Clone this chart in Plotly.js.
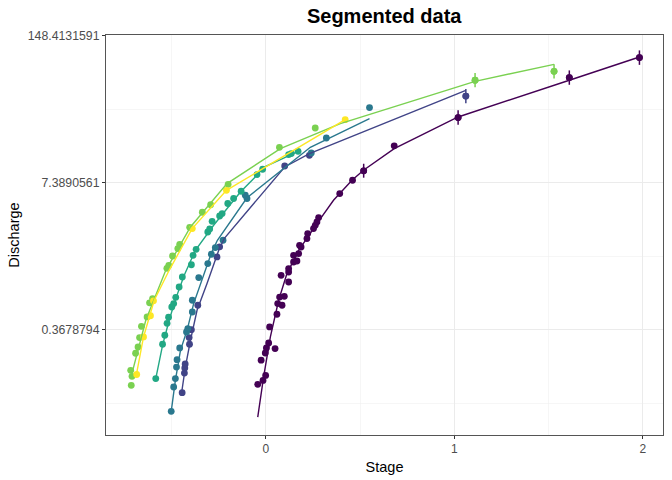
<!DOCTYPE html>
<html>
<head>
<meta charset="utf-8">
<script src="https://cdn.plot.ly/plotly-3.0.1.min.js"></script>
<style>
  html, body { margin: 0; padding: 0; background: #fff; }
  #chart { width: 672px; height: 480px; }
</style>
</head>
<body>
<div id="chart"></div>
<script>
// one colour per segment (viridis, 6 levels)
var segColours = ["#440154", "#414487", "#2A788E", "#22A884", "#7AD151", "#FDE725"];

// observed gaugings : stage and discharge, one pair of arrays per segment
var stage1 = [-0.043, -0.015, -0.001, -0.025, -0.003, 0.003, 0.049, 0.015, 0.020, 0.059,
  0.063, 0.086, 0.073, 0.098, 0.121, 0.081, 0.121, 0.121, 0.147, 0.165, 0.147, 0.174,
  0.187, 0.179, 0.218, 0.222, 0.253, 0.262, 0.271, 0.280, 0.392, 0.460, 0.519, 0.681,
  1.020, 1.610, 1.982];
var q1 = [0.121, 0.131, 0.145, 0.198, 0.229, 0.254, 0.251, 0.281, 0.390, 0.505,
  0.628, 0.607, 0.718, 0.729, 0.976, 1.118, 1.197, 1.283, 1.468, 1.498, 1.682, 1.741,
  1.993, 2.063, 2.365, 2.619, 2.900, 3.104, 3.320, 3.632, 5.93, 7.78, 9.44, 15.72,
  27.96, 63.2, 95.1];

var stage2 = [-0.444, -0.432, -0.430, -0.428, -0.405, -0.407, -0.395, -0.361, -0.259,
  -0.245, 0.100, 0.231, 1.061];
var q2 = [0.102, 0.152, 0.169, 0.183, 0.274, 0.314, 0.369, 0.607, 1.626, 2.002, 10.41,
  12.95, 43.4];

var stage3 = [-0.502, -0.489, -0.480, -0.474, -0.471, -0.457, -0.421, -0.414, -0.390,
  -0.390, -0.356, -0.308, -0.289, -0.268, -0.227, -0.109, -0.100, 0.241, 0.321, 0.550];
var q3 = [0.0697, 0.1145, 0.1359, 0.172, 0.200, 0.254, 0.352, 0.377, 0.529, 0.672,
  1.067, 1.420, 1.718, 1.970, 2.287, 5.73, 5.36, 13.58, 18.43, 34.3];

var stage4 = [-0.584, -0.548, -0.536, -0.524, -0.516, -0.499, -0.489, -0.478, -0.460,
  -0.443, -0.395, -0.386, -0.370, -0.308, -0.298, -0.285, -0.245, -0.232, -0.202,
  -0.171, -0.131, -0.047, -0.017, 0.121, 0.135, 0.171];
var q4 = [0.1359, 0.274, 0.329, 0.420, 0.475, 0.586, 0.628, 0.714, 0.881, 1.081, 1.387,
  1.682, 1.902, 2.707, 2.878, 3.367, 3.751, 3.939, 4.84, 5.36, 6.22, 8.73, 9.74, 13.14,
  13.41, 14.05];

var stage5 = [-0.714, -0.710, -0.717, -0.691, -0.678, -0.670, -0.660, -0.630, -0.617,
  -0.601, -0.525, -0.515, -0.495, -0.467, -0.457, -0.404, -0.337, -0.293, -0.200, 0.072,
  0.262, 1.110, 1.529];
var q5 = [0.1185, 0.1424, 0.161, 0.228, 0.259, 0.314, 0.395, 0.478, 0.638, 0.695, 1.29,
  1.372, 1.658, 1.929, 2.106, 2.980, 4.05, 4.72, 7.16, 15.24, 22.6, 59.9, 71.9];

var stage6 = [-0.685, -0.649, -0.612, -0.596, -0.390, -0.209, 0.421];
var q6 = [0.1478, 0.318, 0.490, 0.665, 2.900, 6.34, 26.8];

// gaugings with an uncertainty interval
var errSeg = [1, 1, 1, 1, 2, 5, 5];
var errStage = [0.519, 1.020, 1.610, 1.982, 1.061, 1.110, 1.529];
var errQ = [9.44, 27.96, 63.2, 95.1, 43.4, 59.9, 71.9];
var errLow = [8.2, 24.2, 54.6, 82.0, 37.5, 51.8, 62.1];
var errHigh = [10.9, 32.4, 73.2, 110.1, 50.2, 69.4, 83.2];

// fitted rating curve of each segment
var fitStage1 = [-0.043, -0.012, 0.024, 0.068, 0.112, 0.174, 0.271, 0.359, 0.457, 0.518,
  0.681, 1.020, 1.610, 1.982];
var fitQ1 = [0.0620, 0.140, 0.318, 0.672, 1.158, 1.863, 3.212, 5.17, 7.78, 9.54, 14.85,
  28.3, 59.9, 96.3];
var fitStage2 = [-0.448, -0.427, -0.400, -0.365, -0.312, -0.250, -0.220, 0.100, 0.231, 1.061];
var fitQ2 = [0.0987, 0.172, 0.297, 0.548, 0.945, 1.863, 2.380, 10.20, 13.41, 48.8];
var fitStage3 = [-0.502, -0.480, -0.453, -0.418, -0.383, -0.338, -0.290, -0.257, -0.100,
  0.236, 0.550];
var fitQ3 = [0.0697, 0.131, 0.242, 0.364, 0.628, 1.046, 1.742, 2.287, 5.44, 15.24, 27.4];
var fitStage4 = [-0.584, -0.548, -0.513, -0.478, -0.433, -0.374, -0.277, -0.135, -0.047,
  -0.012, 0.172];
var fitQ4 = [0.1359, 0.268, 0.447, 0.695, 1.118, 1.863, 3.104, 6.12, 8.61, 10.14, 14.05];
var fitStage5 = [-0.713, -0.637, -0.531, -0.400, -0.206, 0.077, 0.395, 1.110, 1.529];
var fitQ5 = [0.145, 0.447, 1.239, 2.999, 7.27, 14.85, 24.7, 58.6, 82.9];
var fitStage6 = [-0.689, -0.649, -0.592, -0.513, -0.391, -0.209, 0.421];
var fitQ6 = [0.141, 0.318, 0.672, 1.239, 2.900, 6.34, 26.8];

var yTicks = [0.3678794, 7.3890561, 148.4131591];
var yTickText = ["0.3678794", "7.3890561", "148.4131591"];
var yMinor = [0.082085, 1.648721, 33.11545];
var xTicks = [0, 1, 2];
var xMinor = [-0.5, 0.5, 1.5];

var obsStage = [stage1, stage2, stage3, stage4, stage5, stage6];
var obsQ = [q1, q2, q3, q4, q5, q6];
var fitStage = [fitStage1, fitStage2, fitStage3, fitStage4, fitStage5, fitStage6];
var fitQ = [fitQ1, fitQ2, fitQ3, fitQ4, fitQ5, fitQ6];

var traces = [];

for (var i = 0; i < 6; i++) {
  traces.push({
    x: obsStage[i],
    y: obsQ[i],
    type: 'scatter',
    mode: 'markers',
    marker: { size: 6.8, color: segColours[i] },
    showlegend: false
  });
}

// error bars, drawn above the points
for (var k = 0; k < errSeg.length; k++) {
  traces.push({
    x: [errStage[k]],
    y: [errQ[k]],
    type: 'scatter',
    mode: 'markers',
    marker: { size: 6.8, color: segColours[errSeg[k] - 1] },
    error_y: {
      type: 'data', symmetric: false,
      array: [errHigh[k] - errQ[k]],
      arrayminus: [errQ[k] - errLow[k]],
      color: segColours[errSeg[k] - 1],
      thickness: 1.5, width: 0
    },
    showlegend: false, hoverinfo: 'skip'
  });
}

for (var i = 0; i < 6; i++) {
  traces.push({
    x: fitStage[i],
    y: fitQ[i],
    type: 'scatter',
    mode: 'lines',
    line: { color: segColours[i], width: 1.4 },
    showlegend: false
  });
}

var layout = {
  width: 672,
  height: 480,
  paper_bgcolor: '#ffffff',
  plot_bgcolor: '#ffffff',
  margin: { l: 106, r: 9, t: 35, b: 45, pad: 0 },
  font: { family: 'Liberation Sans, Arial, sans-serif', color: '#000000' },
  title: {
    text: '<b>Segmented data</b>',
    font: { size: 20, color: '#000000' },
    x: 0.5717, xanchor: 'center',
    y: 0.966, yanchor: 'middle'
  },
  xaxis: {
    range: [-0.848, 2.107],
    tickmode: 'array',
    tickvals: xTicks,
    ticktext: ['0', '1', '2'],
    ticks: 'outside', ticklen: 3, tickwidth: 1, tickcolor: '#333333',
    tickfont: { size: 12, color: '#4d4d4d' },
    showgrid: true, gridcolor: '#ebebeb', gridwidth: 1.1,
    minor: { tickmode: 'array', tickvals: xMinor, showgrid: true, gridcolor: '#f0f0f0', gridwidth: 0.6, ticks: '' },
    zeroline: false,
    showline: true, mirror: true, linecolor: '#555555', linewidth: 1,
    title: { text: 'Stage', font: { size: 14.5, color: '#000000' }, standoff: 6 }
  },
  yaxis: {
    type: 'log',
    range: [-1.3667, 2.1784],
    tickmode: 'array',
    tickvals: yTicks,
    ticktext: yTickText,
    ticks: 'outside', ticklen: 3, tickwidth: 1, tickcolor: '#333333',
    tickfont: { size: 12.3, color: '#4d4d4d' },
    showgrid: true, gridcolor: '#ebebeb', gridwidth: 1.1,
    minor: { tickmode: 'array', tickvals: yMinor, showgrid: true, gridcolor: '#f0f0f0', gridwidth: 0.6, ticks: '' },
    zeroline: false,
    showline: true, mirror: true, linecolor: '#555555', linewidth: 1,
    title: { text: 'Discharge', font: { size: 14.5, color: '#000000' }, standoff: 4 }
  }
};

Plotly.newPlot('chart', traces, layout, { displayModeBar: false, staticPlot: true });
</script>
</body>
</html>
